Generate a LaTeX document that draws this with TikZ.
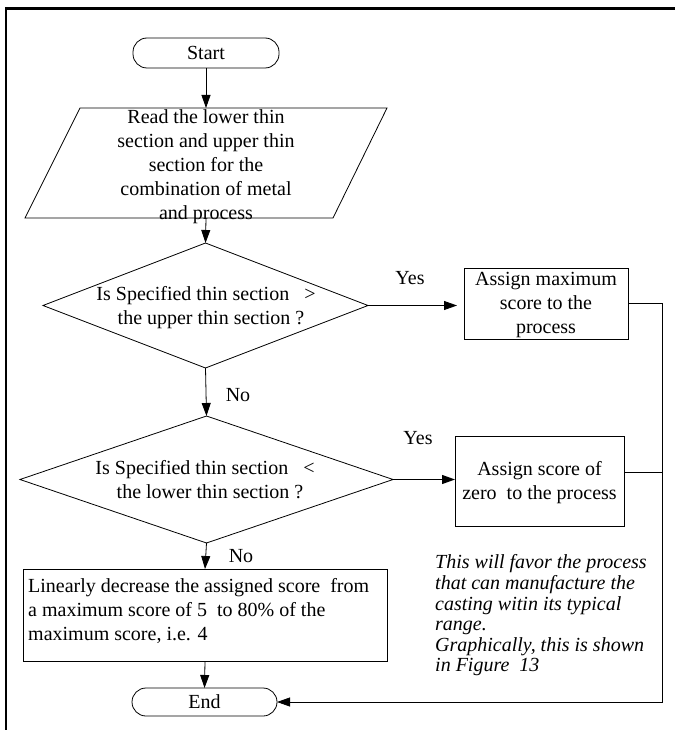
\documentclass[tikz,border=0pt]{standalone}
\usepackage{fontspec}
\setmainfont{Liberation Serif}
\usetikzlibrary{shapes.geometric,arrows.meta,calc}
\begin{document}
\begin{tikzpicture}[x=1pt,y=-1pt,
  every node/.style={font=\fontsize{20}{24}\selectfont},
  base/.style={draw, line width=0.8pt, inner sep=0pt, outer sep=0pt},
  term/.style={base, rounded corners=14pt, minimum width=146pt, minimum height=30pt},
  proc/.style={base, rectangle},
  dec/.style={base, diamond},
  arr/.style={-{Triangle[length=13pt,width=9pt]}, line width=0.8pt},
  line/.style={line width=0.8pt},
  txt/.style={align=center, inner sep=0pt},
  lab/.style={inner sep=0pt}]
\useasboundingbox (0,0) rectangle (674,730);
% frame
\draw[line width=2.5pt] (6,731) -- (6,8.7) -- (675,8.7);
% nodes
\node[term] (start) at (206,53) {Start};
\node[inner sep=0pt, outer sep=0pt, minimum width=254pt, minimum height=110pt] (read) at (206,163) {};
\draw[line] (80,108) -- (387,108) -- (333,218) -- (25,218) -- cycle;
\node[txt] (readt) at (206,167) {Read the lower thin\\section and upper thin\\section for the\\combination of metal\\and process};
\node[dec, minimum width=325pt, minimum height=125pt] (d1) at (205.5,305.5) {};
\node[txt] (d1t) at (206,308) {Is Specified thin section\ \ \ >\\\ \ the upper thin section ?};
\node[proc, minimum width=164pt, minimum height=71pt] (box1) at (546,303.5) {};
\node[txt] (box1t) at (546,305) {Assign maximum\\score to the\\process};
\node[dec, minimum width=373pt, minimum height=127pt] (d2) at (206.5,479.5) {};
\node[txt] (d2t) at (205,480) {Is Specified thin section\ \ \ <\\\ \ the lower thin section ?};
\node[proc, minimum width=169pt, minimum height=90pt] (box2) at (539.5,481) {};
\node[txt] (box2t) at (539.5,483) {Assign score of\\zero\ \ to the process};
\node[proc, minimum width=364pt, minimum height=92pt] (box3) at (205,615) {};
\node[align=left, inner sep=0pt, anchor=north west] (box3t) at (28,578) {Linearly decrease the assigned score\ \ from\\a maximum score of 5\ \ to 80\% of the\\maximum score, i.e. 4};
\node[term, minimum width=145pt, minimum height=28pt] (end) at (204.5,702) {End};
\node[align=left, inner sep=0pt, anchor=west, font=\fontsize{20}{20.6}\selectfont\itshape] (note) at (435,615.5) {This will favor the process\\that can manufacture the\\casting witin its typical\\range.\\Graphically, this is shown\\in Figure\ \ 13};
% labels
\node[lab] (yes1) at (410,278) {Yes};
\node[lab] (yes2) at (418,438) {Yes};
\node[lab] (no1) at (238,395) {No};
\node[lab] (no2) at (241,556) {No};
% connectors
\coordinate (c2) at (662,702);
\draw[arr] (start) -- (read.north);
\draw[arr] (read.south) -- (d1.north);
\draw[arr, shorten >=7pt] (d1.east) -- (d1.east -| box1.west);
\draw[arr] (d1.south) -- (d2.north);
\draw[arr, line width=1.2pt] (d2.east) -- (d2.east -| box2.west);
\draw[arr] (d2.south) -- (box3.north);
\draw[arr] (box3.south) -- (end.north);
\draw[arr] (box1.east) -- (box1.east -| c2) -- (c2) -- (end.east);
\draw[line] ([yshift=9pt]box2.east) -- ([yshift=9pt]box2.east -| c2);
\end{tikzpicture}
\end{document}
